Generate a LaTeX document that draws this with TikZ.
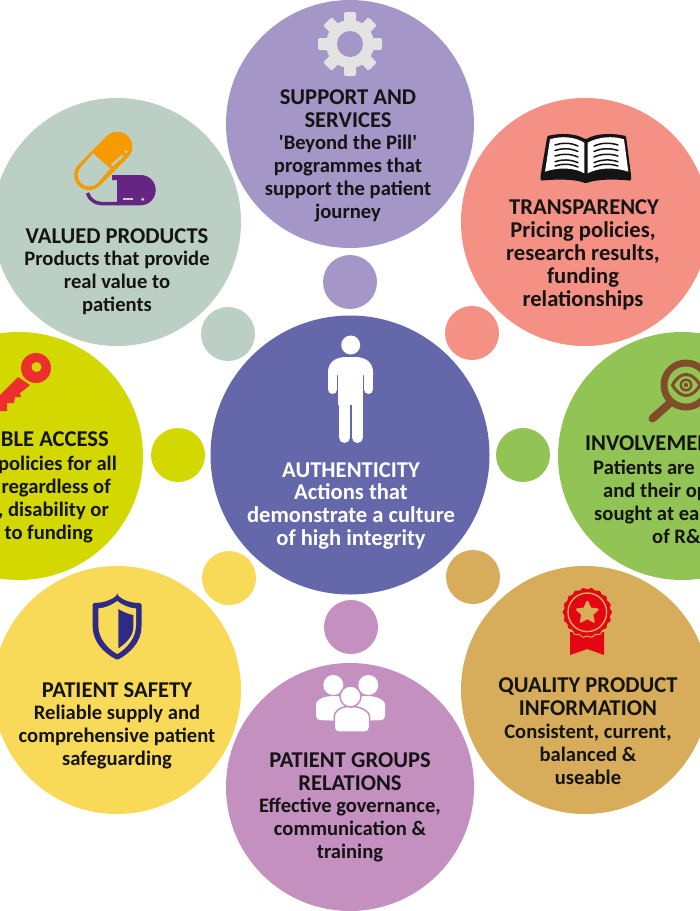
\documentclass[tikz,border=0pt]{standalone}
\usepackage{fontspec}
\setmainfont{Carlito}
\usetikzlibrary{shapes.geometric}
\definecolor{sage}{HTML}{BBCFC4}
\definecolor{lilac}{HTML}{A596C8}
\definecolor{salmon}{HTML}{F49084}
\definecolor{leaf}{HTML}{92C355}
\definecolor{tan}{HTML}{D7AC5A}
\definecolor{pinkp}{HTML}{C490C0}
\definecolor{sun}{HTML}{F9DA58}
\definecolor{lime}{HTML}{D2D800}
\definecolor{navy}{HTML}{6468AB}
\definecolor{ink}{HTML}{141414}
\definecolor{orangep}{HTML}{F59B00}
\definecolor{purplep}{HTML}{662483}
\definecolor{keyred}{HTML}{EE2E2E}
\definecolor{brownm}{HTML}{7F4D27}
\definecolor{shieldb}{HTML}{2E2A85}
\definecolor{medalr}{HTML}{E30613}
\definecolor{gearg}{HTML}{E3E3E3}
\tikzset{
  bigc/.style={circle,inner sep=0pt,minimum size=248pt},
  smallc/.style={circle,inner sep=0pt,minimum size=54pt},
  head/.style={font=\bfseries\fontsize{22.6}{23}\selectfont,align=center,text=ink,inner sep=0pt},
  body/.style={font=\bfseries\fontsize{20.6}{23}\selectfont,align=center,text=ink,inner sep=0pt},
  bodyb/.style={font=\bfseries\fontsize{22.6}{23}\selectfont,align=center,text=ink,inner sep=0pt},
  headl/.style={font=\bfseries\fontsize{22.6}{23}\selectfont,text=ink,inner sep=0pt},
  bodyl/.style={font=\bfseries\fontsize{20.6}{23}\selectfont,text=ink,inner sep=0pt},
}
\begin{document}
\begin{tikzpicture}[x=1pt,y=-1pt]
\clip (0,0) rectangle (700,911);
\fill[white] (0,0) rectangle (700,911);
% big circles
\node[bigc,fill=lilac] (support) at (350,124) {};
\node[bigc,fill=salmon] (transp) at (585,222) {};
\node[bigc,fill=leaf] (involve) at (682,456) {};
\node[bigc,fill=tan] (quality) at (585,690) {};
\node[bigc,fill=pinkp] (groups) at (350,787) {};
\node[bigc,fill=sun] (safety) at (117,690) {};
\node[bigc,fill=lime] (access) at (19,456) {};
\node[bigc,fill=sage] (valued) at (117,222) {};
\node[circle,inner sep=0pt,minimum size=279pt,fill=navy] (auth) at (350,455) {};
% small circles
\node[smallc,fill=lilac] (s1) at (350,282) {};
\node[smallc,fill=salmon] (s2) at (472,333) {};
\node[smallc,fill=leaf] (s3) at (523,455) {};
\node[smallc,fill=tan] (s4) at (473,577) {};
\node[smallc,fill=pinkp] (s5) at (351,627) {};
\node[smallc,fill=sun] (s6) at (229,578) {};
\node[smallc,fill=lime] (s7) at (178,455) {};
\node[smallc,fill=sage] (s8) at (228,334) {};
% texts
\node[head] (t1) at (348,109) {SUPPORT AND\\SERVICES};
\node[body] (b1) at (348,178.5) {\textquotesingle Beyond the Pill\textquotesingle\\programmes that\\support the patient\\journey};
\node[head] (t2) at (584,207.5) {TRANSPARENCY};
\node[bodyb] (b2) at (583,265.5) {Pricing policies,\\research results,\\funding\\relationships};
\node[head] (t3) at (117,236.5) {VALUED PRODUCTS};
\node[body] (b3) at (117,282.5) {Products that provide\\real value to\\patients};
\node[head,text=white] (t4) at (351,470.5) {AUTHENTICITY};
\node[bodyb,text=white] (b4) at (351,516.5) {Actions that\\demonstrate a culture\\of high integrity};
\node[head] (t5) at (117,690.5) {PATIENT SAFETY};
\node[body] (b5) at (117,737.5) {Reliable supply and\\comprehensive patient\\safeguarding};
\node[head] (t6) at (588,697) {QUALITY PRODUCT\\INFORMATION};
\node[body] (b6) at (588,754.5) {Consistent, current,\\balanced \&\\useable};
\node[head] (t7) at (350,772) {PATIENT GROUPS\\RELATIONS};
\node[body] (b7) at (350,829.5) {Effective governance,\\communication \&\\training};
% cropped left column
\node[headl,anchor=base east] (l1) at (109,446) {BLE ACCESS};
\node[bodyl,anchor=base east] (l2) at (117,470) {policies for all};
\node[bodyl,anchor=base east] (l3) at (111,493) {regardless of};
\node[bodyl,anchor=base east] (l4) at (109,516) {, disability or};
\node[bodyl,anchor=base east] (l5) at (93,539) {to funding};
% cropped right column
\node[headl,anchor=base west] (r1) at (585,450) {INVOLVEMEN};
\node[bodyl,anchor=base west] (r2) at (593,474) {Patients are};
\node[bodyl,anchor=base west] (r3) at (603,497) {and their op};
\node[bodyl,anchor=base west] (r4) at (594,520) {sought at ea};
\node[bodyl,anchor=base west] (r5) at (652,543) {of R\&};
% gear
\foreach \a in {0,45,...,315}{
  \fill[gearg,rounded corners=2pt,rotate around={\a:(350,44)}] (344,12) rectangle (356,30);
}
\fill[gearg] (350,44) circle[radius=24];
\fill[lilac] (350,44) circle[radius=13];
% person
\fill[white] (350.7,345) circle[radius=9.5];
\fill[white] (328,375) -- (328,372) .. controls (328,362) and (336,357) .. (346,357) -- (355,357) .. controls (365,357) and (373,362) .. (373,372) -- (373,375) -- cycle;
\draw[white,line width=9pt,line cap=round] (332.5,372) -- (332.5,389.5);
\draw[white,line width=9pt,line cap=round] (368.5,372) -- (368.5,389.5);
\fill[white] (338,365) rectangle (363,405);
\draw[white,line width=11pt,line cap=round] (344.5,400) -- (344.5,437.5);
\draw[white,line width=11pt,line cap=round] (357.5,400) -- (357.5,437.5);
% pill
\draw[orangep,line width=30pt,line cap=round] (117.3,146.7) -- (89.3,175);
\draw[sage,line width=23pt] (89.3,175) -- (101.7,161);
\fill[sage] (89.3,175) circle[radius=11.5];
\draw[sage,line width=2.5pt,line cap=round] (112.3,165) -- (122.3,156);
\fill[sage] (126,151.7) circle[radius=1.7];
\fill[purplep] (112,175) -- (140.5,175) .. controls (149,175) and (155.7,181.5) .. (155.7,190) .. controls (155.7,198.5) and (149,205.3) .. (140.5,205.3) -- (117,205.3) -- (117,180) -- (112,180) -- cycle;
\draw[purplep,line width=3.5pt] (87.5,193) .. controls (89,199) and (95,203.5) .. (101,203.5) -- (118,203.5);
\draw[sage,line width=2pt] (123,199.3) -- (133,199.3);
\fill[sage] (142.7,199.3) circle[radius=1.7];
% book
\fill[ink,rounded corners=1pt] (540.7,175) -- (547.3,136) .. controls (560,133) and (575,133) .. (585.7,139.3) .. controls (597,133) and (612,133) .. (626,136) -- (631,175) -- (631,180.7) .. controls (615,179) and (597,179) .. (585.7,183.3) .. controls (575,179) and (557,179) .. (540.7,180.7) -- cycle;
\fill[white] (550,139.3) .. controls (562,135.5) and (575,137) .. (584.3,142.7) -- (584.3,173.3) .. controls (575,168) and (560,166.5) .. (545,171.7) -- cycle;
\fill[white] (624,139.3) .. controls (612,135.5) and (598,137) .. (587.7,142.7) -- (587.7,173.3) .. controls (598,168) and (613,166.5) .. (628.3,171.7) -- cycle;
\foreach \y in {144,149.5,155,160.7,165}{
  \draw[ink,line width=1.5pt,line cap=round] (555,\y+1) .. controls (562,\y-1.5) and (570,\y-1.5) .. (578,\y+2);
  \draw[ink,line width=1.5pt,line cap=round] (594,\y+2) .. controls (602,\y-1.5) and (610,\y-1.5) .. (618,\y+1);
}
% key
\fill[keyred] (-8,403) -- (18,377) -- (30,385) -- (24,390) -- (20,393) -- (21,397) -- (15,397) -- (14,403) -- (7,403) -- (7,411) -- (-8,411) -- cycle;
\fill[keyred] (36,368) circle[radius=15];
\fill[lime] (36.5,367) circle[radius=5];
% magnifier
\draw[brownm,line width=8pt,line cap=round] (670,403) -- (652.5,418.5);
\fill[brownm] (686,385) circle[radius=25.5];
\fill[leaf] (686,385) circle[radius=18.5];
\draw[brownm,line width=3pt] (672.5,385) .. controls (680,371) and (692,371) .. (700,385) .. controls (692,399) and (680,399) .. (672.5,385) -- cycle;
\fill[brownm] (686,385) circle[radius=6.5];
\fill[leaf] (686,385) circle[radius=4];
\fill[brownm] (686,385) circle[radius=2.2];
% shield
\fill[shieldb,rounded corners=1.5pt] (117.3,595) .. controls (124,601) and (132,603) .. (141.5,603) -- (141.5,625) .. controls (141.5,642) and (130,653) .. (117.3,660) .. controls (104,653) and (92.7,642) .. (92.7,625) -- (92.7,603) .. controls (102,603) and (110,601) .. (117.3,595) -- cycle;
\fill[sun] (117.3,601) .. controls (122,605) and (129,608) .. (136,608.5) -- (136,625) .. controls (136,638) and (127,648) .. (117.3,654) .. controls (107,648) and (98.3,638) .. (98.3,625) -- (98.3,608.5) .. controls (105,608) and (112,605) .. (117.3,601) -- cycle;
\fill[shieldb] (118.3,609) .. controls (123,612) and (128,614) .. (133.3,615) -- (133.3,627) .. controls (133.3,636) and (126,643.5) .. (118.3,648.3) -- cycle;
% medal
\fill[medalr] (570,632) -- (604,632) -- (604,655) -- (587.3,649) -- (570,655) -- cycle;
\fill[medalr,draw=tan,line width=1pt] plot[domain=0:360,samples=145,smooth] ({587.3+(24.5+0.8*cos(18*\x))*cos(\x)},{612.3+(24.5+0.8*cos(18*\x))*sin(\x)}) -- cycle;
\draw[tan,line width=1.4pt] (587.3,612.3) circle[radius=19.3];
\node[star,star points=5,star point ratio=2.1,inner sep=0pt,minimum size=22pt,fill=tan,draw=tan,line width=2pt,line join=round] (medalstar) at (587.3,612.8) {};
% group
\fill[white,rounded corners=4pt] (316,720) -- (316,708) .. controls (316,701) and (322,697) .. (332,696) -- (345,696) -- (345,721) -- cycle;
\fill[white] (333.3,685) circle[radius=10];
\fill[white,rounded corners=4pt] (385,720) -- (385,708) .. controls (385,701) and (378,697) .. (369,696) -- (356,696) -- (356,721) -- cycle;
\fill[white] (368.3,685) circle[radius=10];
\fill[white,draw=pinkp,line width=1.5pt,rounded corners=4pt] (334.3,732) -- (334.3,720) .. controls (334.3,712) and (340,707) .. (350,706.5) .. controls (362,707) and (369.5,712) .. (369.5,720) -- (369.5,732) -- cycle;
\fill[white,draw=pinkp,line width=1.5pt] (350.5,696.5) circle[radius=10.5];
\end{tikzpicture}
\end{document}
